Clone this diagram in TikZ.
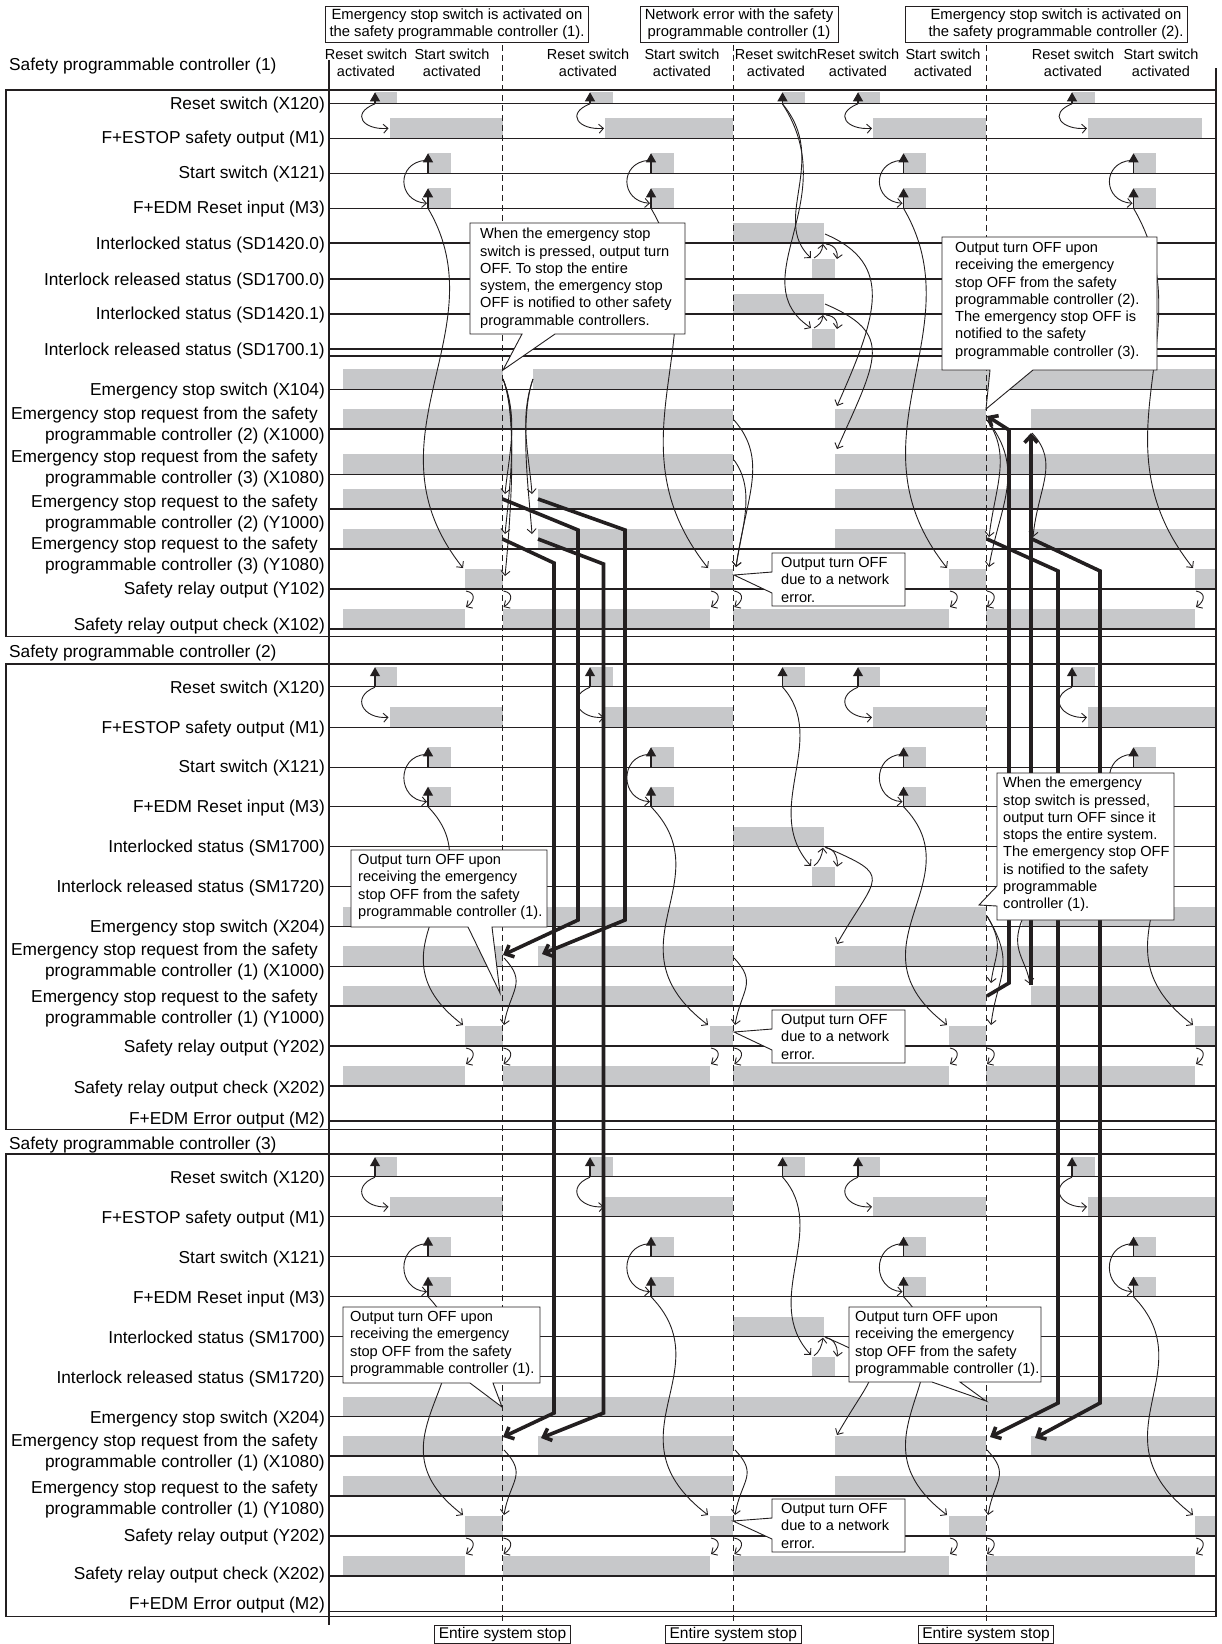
\documentclass[tikz,border=0pt]{standalone}
\usepackage{fontspec}
\setmainfont{Liberation Sans}
\usetikzlibrary{arrows.meta,positioning}
\definecolor{lvlgray}{RGB}{199,200,202}
\definecolor{ink}{RGB}{35,31,32}

% gray level bars on one row: #1 = row line, #2 = list of x1/x2
\newcommand\lvls[2]{\foreach \xa/\xb in {#2}{\fill[lvlgray] (\xa,{#1-20}) rectangle (\xb,#1);}}
% small hook from relay output down to the check row
\newcommand\hook[2]{\draw[cause] (#1+1,#2+2) .. controls +(11,2) and +(8,-5) .. (#1+1,#2+18);}
% long s-curve from reset input to relay output
\newcommand\sway[4]{\draw[cause] (#1,#2) .. controls ({#1+72},{#2+0.34*(#4-#2)}) and ({#3-103},{#4-0.36*(#4-#2)}) .. (#3,#4);}
% interlock / release small arrows
\newcommand\ilk[2]{%
  \draw[cause] (814,#2-21) .. controls +(5,-3) and +(-1,8) .. (823,#1+1);
  \draw[cause] (826,#1+1) .. controls +(10,1) and +(1,-6) .. (837,#2-20);}

\begin{document}
\begin{tikzpicture}[
  x=1pt, y=-1pt,
  lbl/.style={anchor=east, align=right, inner sep=0pt, font=\fontsize{17.3}{21}\selectfont},
  ttl/.style={anchor=west, inner sep=0pt, font=\fontsize{17.3}{21}\selectfont},
  hdr/.style={align=center, inner sep=0pt, font=\fontsize{14.5}{17}\selectfont},
  evtxt/.style={align=center, inner sep=0pt, font=\fontsize{14.8}{17}\selectfont},
  stopbox/.style={draw=ink, line width=0.9pt, inner xsep=4pt, inner ysep=1pt, minimum height=18pt, font=\fontsize{15.5}{17}\selectfont},
  ctxt/.style={anchor=north west, align=left, inner sep=0pt, font=\fontsize{14.6}{17.3}\selectfont},
  bubble/.style={draw=ink, fill=white, line width=0.9pt},
  sig/.style={draw=ink, line width=1.1pt},
  guide/.style={draw=ink, line width=0.9pt, dash pattern=on 6pt off 4pt},
  trig/.style={draw=ink, line width=1.1pt, -{Triangle[length=9pt,width=10pt]}},
  cause/.style={draw=ink, line width=0.9pt, -{Straight Barb[length=4.5pt,width=9pt]}},
  relay/.style={draw=ink, line width=3.6pt, -{Straight Barb[length=7pt,width=13pt]}}
]
\useasboundingbox (0,0) rectangle (1222,1644);

% levels of controller (1)
\lvls{243}{733.3/824}
\lvls{279}{812/835}
\lvls{314}{733.3/824}
\lvls{349}{812/835}
\lvls{389.3}{343/502.5,533/1216}
\lvls{429}{343/733.3,835/986,1031/1216}
\lvls{474.3}{343/733.3,835/1216}
\lvls{509}{343/502.5,538/733.3,835/1216}
\lvls{549}{343/502.5,538/733.3,835/986,1031/1216}
% levels of controller (2)
\lvls{846.7}{733.3/824}
\lvls{886.7}{812/835}
\lvls{926.7}{343/986,1022/1216}
\lvls{966.3}{343/502.5,538/733.3,835/1216}
\lvls{1006}{343/733.3,835/986,1031/1216}
% levels of controller (3)
\lvls{1336.7}{733.3/824}
\lvls{1376.7}{812/835}
\lvls{1416.7}{343/1216}
\lvls{1456}{343/502.5,538/733.3,835/986,1031/1216}
\lvls{1496}{343/733.3,835/1216}

% rows that repeat in every controller
\foreach \yR/\yM/\yS/\yT/\hR/\mE/\yY/\yC in {%
    103.3/138.3/173.3/208.3/11/1202/589/629,%
    686.7/727.3/767.3/806.7/19.5/1216/1046/1086,%
    1176.7/1216.7/1256.7/1296.7/19.5/1216/1536/1576}{%
  \foreach \xa/\xb in {375/397,590/613,782.5/805,858/880,1072/1095}{%
    \fill[lvlgray] (\xa,\yR-\hR) rectangle (\xb,\yR);
    \draw[trig] (\xa,\yR) -- (\xa,\yR-\hR);}
  \lvls{\yM}{389.5/502.5,605/733.3,873/986,1088/\mE}
  \foreach \xa in {428,651,903.5,1133.5}{%
    \fill[lvlgray] (\xa,\yS-20) rectangle (\xa+22.5,\yS);
    \fill[lvlgray] (\xa,\yT-20) rectangle (\xa+22.5,\yT);
    \draw[trig] (\xa,\yS) -- (\xa,\yS-20);
    \draw[trig] (\xa,\yT) -- (\xa,\yT-20);
    \draw[cause] (\xa-2,\yS-13) .. controls +(-30,2) and +(-30,-2) .. (\xa-1,\yT-5);}
  \foreach \xa/\xb in {375/389.5,590/605,858/873,1072/1088}{%
    \draw[cause] (\xa,\yR+0.5) .. controls +(-25,10) and +(-25,2) .. (\xb-1,\yM-10);}
  \lvls{\yY}{465/502.5,710/733.3,949/986,1195/1216}
  \lvls{\yC}{343/465,502.5/710,733.3/949,986/1195}
  \foreach \xa/\xb in {428/463,651/708,903.5/947,1133.5/1193}{\sway{\xa}{\yT}{\xb}{\yY-21}}
  \foreach \xa in {465,502.5,710,733.3,949,986,1195}{\hook{\xa}{\yY}}
}

% row lines
\foreach \y in {103.3,138.3,173.3,208.3,243,279,314,349,356,389.3,429,474.3,509,549,589,629,
  686.7,727.3,767.3,806.7,846.7,886.7,926.7,966.3,1006,1046,1086,1121,
  1176.7,1216.7,1256.7,1296.7,1336.7,1376.7,1416.7,1456,1496,1536,1576,1611.7}{%
  \draw[sig] (329,\y) -- (1216,\y);}

% frames
\draw[sig] (6,90) rectangle (1216,636.7);
\draw[sig] (6,664) rectangle (1216,1129.3);
\draw[sig] (6,1154) rectangle (1216,1616.7);
\draw[sig] (329,60) -- (329,1625);
\draw[sig] (1216,68) -- (1216,1616.7);
\foreach \x in {502.5,733.3,986}{\draw[guide] (\x,45) -- (\x,1625);}

% controller (1)
\foreach \yy in {494,534,576}{%
  \draw[cause] (503,379) .. controls +(16,40) and +(4,-40) .. (505,\yy);}
\foreach \yy in {494,534}{%
  \draw[cause] (533,379) .. controls +(-14,40) and +(-3,-40) .. (532,\yy);}
\draw[cause] (734,420) .. controls +(35,40) and +(10,-70) .. (736,567);
\draw[cause] (734,460) .. controls +(22,30) and +(6,-40) .. (736,567);
\draw[cause] (782.5,104) .. controls (830,160) and (770,220) .. (811,258);
\draw[cause] (782.5,104) .. controls (845,200) and (740,280) .. (811,328);
\ilk{243}{279}
\ilk{314}{349}
\draw[cause] (825,234) .. controls +(70,30) and +(40,-90) .. (837,406);
\draw[cause] (825,304) .. controls +(70,30) and +(40,-90) .. (837,449);
\draw[cause] (987,420) .. controls +(25,35) and +(6,-50) .. (989,537);
\draw[cause] (987,420) .. controls +(40,50) and +(10,-60) .. (989,567);
\draw[cause] (1032,433) .. controls +(28,30) and +(5,-50) .. (1033,537);

% controller (2)
\draw[cause] (782.5,687) .. controls (830,740) and (760,810) .. (811,866);
\ilk{846.7}{886.7}
\draw[cause] (825,847) .. controls +(70,30) and +(40,-70) .. (837,944);
\draw[cause] (504,958) .. controls +(24,25) and +(6,-35) .. (504,1025);
\draw[cause] (734,958) .. controls +(24,25) and +(6,-35) .. (735,1025);
\draw[cause] (987,916) .. controls +(18,30) and +(4,-30) .. (991,983);
\draw[cause] (987,916) .. controls +(30,50) and +(6,-50) .. (991,1025);
\draw[cause] (1022,920) .. controls +(-12,30) and +(-4,-25) .. (1030,984);

% controller (3)
\draw[cause] (782.5,1177) .. controls (830,1230) and (760,1300) .. (811,1355);
\ilk{1336.7}{1376.7}
\draw[cause] (825,1337) .. controls +(70,30) and +(40,-70) .. (837,1435);
\draw[cause] (504,1450) .. controls +(24,25) and +(6,-35) .. (504,1515);
\draw[cause] (735,1450) .. controls +(24,25) and +(6,-35) .. (735,1515);
\draw[cause] (987,1450) .. controls +(24,25) and +(6,-35) .. (988,1515);

% emergency stop requests passed between controllers
\draw[relay] (502.5,499) -- (578,530) -- (578,920) -- (503,955);
\draw[relay] (538,499) -- (625,530) -- (625,920) -- (542,954);
\draw[relay] (502.5,539) -- (554,563) -- (554,1413) -- (503,1437);
\draw[relay] (538,539) -- (603.5,564) -- (603.5,1413) -- (541,1438);
\draw[relay] (987,996) -- (1009,983) -- (1009,430) -- (987,416);
\draw[relay] (1031,985) -- (1031,433);
\draw[relay] (987,539) -- (1058,571) -- (1058,1403) -- (990,1437);
\draw[relay] (1032,539) -- (1100,571) -- (1100,1403) -- (1035,1438);

% callouts
\filldraw[bubble] (470,223) -- (685,223) -- (685,334) -- (555,334) -- (503,370) -- (522,334) -- (470,334) -- cycle;
\node[ctxt] (c1) at (480,228) {When the emergency stop\\switch is pressed, output turn\\OFF. To stop the entire\\system, the emergency stop\\OFF is notified to other safety\\programmable controllers.};
\filldraw[bubble] (942,237) -- (1157,237) -- (1157,370) -- (1033,370) -- (986,409) -- (990,370) -- (942,370) -- cycle;
\node[ctxt] (c2) at (955,242) {Output turn OFF upon\\receiving the emergency\\stop OFF from the safety\\programmable controller (2).\\The emergency stop OFF is\\notified to the safety\\programmable controller (3).};
\filldraw[bubble] (351,850) -- (547,850) -- (547,927) -- (492,927) -- (500,993) -- (468,927) -- (351,927) -- cycle;
\node[ctxt] (c3) at (358,854) {Output turn OFF upon\\receiving the emergency\\stop OFF from the safety\\programmable controller (1).};
\filldraw[bubble] (997,773) -- (1174,773) -- (1174,920) -- (997,920) -- (997,906) -- (979,905) -- (997,886) -- cycle;
\node[ctxt] (c4) at (1003,777) {When the emergency\\stop switch is pressed,\\output turn OFF since it\\stops the entire system.\\The emergency stop OFF\\is notified to the safety\\programmable\\controller (1).};
\filldraw[bubble] (343,1307) -- (540,1307) -- (540,1383) -- (493,1383) -- (502,1407) -- (470,1383) -- (343,1383) -- cycle;
\node[ctxt] (c5) at (350,1311) {Output turn OFF upon\\receiving the emergency\\stop OFF from the safety\\programmable controller (1).};
\filldraw[bubble] (849,1307) -- (1041,1307) -- (1041,1382) -- (960,1382) -- (986,1401) -- (932,1382) -- (849,1382) -- cycle;
\node[ctxt] (c6) at (855,1311) {Output turn OFF upon\\receiving the emergency\\stop OFF from the safety\\programmable controller (1).};
\foreach \yt/\tx [count=\i] in {553/734,1010/734,1499/733}{%
  \filldraw[bubble] (772,\yt) -- (905,\yt) -- (905,\yt+53) -- (772,\yt+53) -- (772,\yt+40) -- (\tx,\yt+22) -- (772,\yt+19) -- cycle;
  \node[ctxt] (nw\i) at (781,\yt+4) {Output turn OFF\\due to a network\\error.};}

% event boxes and headers
\draw[sig, line width=0.9pt] (325,6.5) rectangle (588,42.5);
\node[evtxt] (ev1) at (457,24.5) {Emergency stop switch is activated on\\the safety programmable controller (1).};
\draw[sig, line width=0.9pt] (640,6.5) rectangle (838,42.5);
\node[evtxt] (ev2) at (739,24.5) {Network error with the safety\\programmable controller (1)};
\draw[sig, line width=0.9pt] (905,6.5) rectangle (1187,42.5);
\node[evtxt] (ev3) at (1056,24.5) {Emergency stop switch is activated on\\the safety programmable controller (2).};
\foreach \x/\t [count=\i] in {366/Reset,452/Start,588/Reset,682/Start,776/Reset,858/Reset,943/Start,1073/Reset,1161/Start}{%
  \node[hdr] (hd\i) at (\x,62.5) {\t{} switch\\activated};}
\foreach \x [count=\i] in {502.5,733.3,986}{%
  \node[stopbox] (st\i) at (\x,1634) {Entire system stop};}

% controller titles
\node[ttl] (t1) at (9,66) {Safety programmable controller (1)};
\node[ttl] (t2) at (9,653) {Safety programmable controller (2)};
\node[ttl] (t3) at (9,1145) {Safety programmable controller (3)};

% signal names
\foreach \y/\t [count=\i] in {105/Reset switch (X120),139.5/F+ESTOP safety output (M1),174.5/Start switch (X121),
  209.5/F+EDM Reset input (M3),245/Interlocked status (SD1420.0),281/Interlock released status (SD1700.0),
  315.5/Interlocked status (SD1420.1),351/Interlock released status (SD1700.1),391/Emergency stop switch (X104),
  426/{Emergency stop request from the safety\hspace*{7pt}\\programmable controller (2) (X1000)},
  469/{Emergency stop request from the safety\hspace*{7pt}\\programmable controller (3) (X1080)},
  514/{Emergency stop request to the safety\hspace*{7pt}\\programmable controller (2) (Y1000)},
  555.5/{Emergency stop request to the safety\hspace*{7pt}\\programmable controller (3) (Y1080)},
  590/Safety relay output (Y102),626/Safety relay output check (X102)}{%
  \node[lbl] (la\i) at (325,\y) {\t};}
\foreach \y/\t [count=\i] in {689/Reset switch (X120),729/F+ESTOP safety output (M1),768.5/Start switch (X121),
  808/F+EDM Reset input (M3),848.5/Interlocked status (SM1700),888.5/Interlock released status (SM1720),
  928.5/Emergency stop switch (X204),
  962/{Emergency stop request from the safety\hspace*{7pt}\\programmable controller (1) (X1000)},
  1009/{Emergency stop request to the safety\hspace*{7pt}\\programmable controller (1) (Y1000)},
  1048/Safety relay output (Y202),1089/Safety relay output check (X202),1120/F+EDM Error output (M2)}{%
  \node[lbl] (lb\i) at (325,\y) {\t};}
\foreach \y/\t [count=\i] in {1179/Reset switch (X120),1219/F+ESTOP safety output (M1),1259/Start switch (X121),
  1299/F+EDM Reset input (M3),1339/Interlocked status (SM1700),1379/Interlock released status (SM1720),
  1419/Emergency stop switch (X204),
  1453/{Emergency stop request from the safety\hspace*{7pt}\\programmable controller (1) (X1080)},
  1500/{Emergency stop request to the safety\hspace*{7pt}\\programmable controller (1) (Y1080)},
  1537/Safety relay output (Y202),1575/Safety relay output check (X202),1605/F+EDM Error output (M2)}{%
  \node[lbl] (lc\i) at (325,\y) {\t};}
\end{tikzpicture}
\end{document}
